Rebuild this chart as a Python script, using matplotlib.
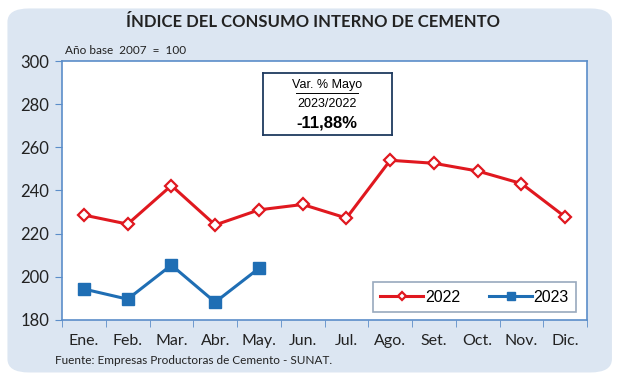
import matplotlib.pyplot as plt
from matplotlib.patches import FancyBboxPatch

meses = ['Ene.', 'Feb.', 'Mar.', 'Abr.', 'May.', 'Jun.', 'Jul.', 'Ago.', 'Set.', 'Oct.', 'Nov.', 'Dic.']
indice_2022 = [228.6, 224.4, 242.3, 224.0, 231.0, 233.5, 227.2, 254.0, 252.6, 249.0, 243.2, 227.7]
indice_2023 = [194.3, 189.6, 205.4, 188.2, 203.9]
yticks = [180, 200, 220, 240, 260, 280, 300]

RED = '#e0181f'
BLUE = '#1f6eb4'
EDGE = '#5b8dc9'

plt.rcParams['font.family'] = ['Lato', 'DejaVu Sans']

fig = plt.figure(figsize=(6.2, 3.84), dpi=100)
fig.patch.set_facecolor('white')

# rounded light-blue panel behind everything
panel = FancyBboxPatch((0.012, 0.03), 0.975, 0.948, boxstyle='round,pad=0,rounding_size=0.035',
                       transform=fig.transFigure, facecolor='#dce6f2', edgecolor='none', zorder=-10)
fig.patches.append(panel)

ax = fig.add_axes([0.1, 0.167, 0.847, 0.674])
ax.set_facecolor('white')

x = range(len(meses))
ax.plot(x, indice_2022, color=RED, lw=2.2, marker='D', ms=6, mfc='white', mec=RED, mew=1.6, label='2022')
ax.plot(range(len(indice_2023)), indice_2023, color=BLUE, lw=2.2, marker='s', ms=8, mfc=BLUE, mec=BLUE, label='2023')

ax.set_xlim(-0.5, 11.5)
ax.set_ylim(180, 300)
ax.set_yticks(yticks)
ax.set_xticks(list(x))
ax.set_xticklabels(meses)
ax.set_xticks([i + 0.5 for i in range(-1, 12)], minor=True)
ax.tick_params(axis='x', which='major', length=0, pad=10, labelsize=11.5, colors='#222222')
ax.tick_params(axis='x', which='minor', length=5, color=EDGE, direction='out')
ax.tick_params(axis='y', length=5, color=EDGE, labelsize=12, colors='#222222', pad=4)
for s in ax.spines.values():
    s.set_color(EDGE)
    s.set_linewidth(1.2)

fig.text(0.505, 0.943, 'ÍNDICE DEL CONSUMO INTERNO DE CEMENTO', ha='center', va='center',
         fontsize=12, fontweight='bold', color='#222222')
fig.text(0.105, 0.868, 'Año base  2007  =  100', ha='left', va='center', fontsize=8.5, color='#222222')
fig.text(0.088, 0.062, 'Fuente: Empresas Productoras de Cemento - SUNAT.', ha='left', va='center',
         fontsize=8.5, color='#222222')

# variation box
bx = fig.add_axes([0.424, 0.648, 0.208, 0.162])
bx.set_xticks([])
bx.set_yticks([])
for s in bx.spines.values():
    s.set_color('#1f3a5f')
    s.set_linewidth(1.3)
bx.text(0.5, 0.8, 'Var. % Mayo', ha='center', va='center', fontsize=9, family='Liberation Sans',
        transform=bx.transAxes)
bx.plot([0.26, 0.74], [0.68, 0.68], color='black', lw=0.7, transform=bx.transAxes)
bx.text(0.5, 0.5, '2023/2022', ha='center', va='center', fontsize=9, family='Liberation Sans',
        transform=bx.transAxes)
bx.text(0.5, 0.19, '-11,88%', ha='center', va='center', fontsize=12, fontweight='bold',
        family='Liberation Sans', transform=bx.transAxes)
bx.set_xlim(0, 1)
bx.set_ylim(0, 1)

leg = ax.legend(loc='lower right', bbox_to_anchor=(0.979, 0.031), ncol=2, frameon=True, fancybox=False,
                prop={'family': 'Liberation Sans', 'size': 11.5}, handlelength=2.7, columnspacing=1.8,
                borderpad=0.45, handletextpad=0.1, borderaxespad=0, markerscale=0.75)
leg.get_frame().set_edgecolor('#7f93ad')
leg.get_frame().set_linewidth(1.2)

fig.savefig('out.png', dpi=100)
